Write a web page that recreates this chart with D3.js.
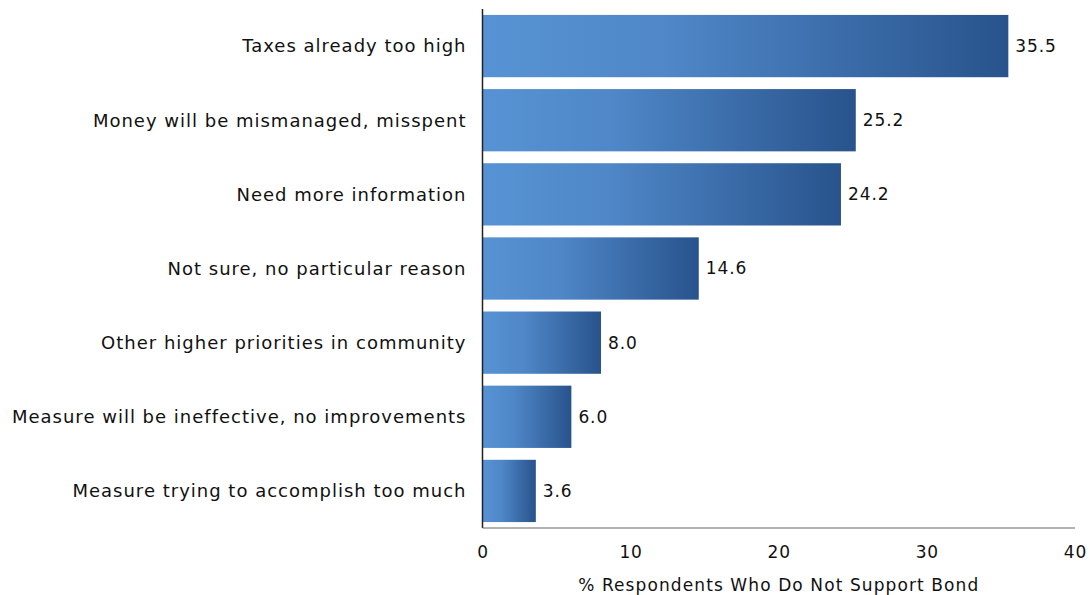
<!DOCTYPE html>
<html>
<head>
<meta charset="utf-8">
<script src="https://cdn.jsdelivr.net/npm/d3@7"></script>
<style>
  body { margin: 0; background: #fff; }
  text { font-family: "DejaVu Sans", sans-serif; fill: #111; }
</style>
</head>
<body>
<div id="chart"></div>
<script>
var reasons = ["Taxes already too high", "Money will be mismanaged, misspent", "Need more information",
  "Not sure, no particular reason", "Other higher priorities in community",
  "Measure will be ineffective, no improvements", "Measure trying to accomplish too much"];
var values = [35.5, 25.2, 24.2, 14.6, 8.0, 6.0, 3.6];
var xTicks = [0, 10, 20, 30, 40];
var xTitle = "% Respondents Who Do Not Support Bond";

var margin = {top: 9, right: 15, bottom: 67, left: 482.5},
    width = 1090 - margin.left - margin.right,
    height = 595 - margin.top - margin.bottom;

var svg = d3.select("#chart")
  .append("svg")
    .attr("width", 1090)
    .attr("height", 595)
  .append("g")
    .attr("transform", "translate(" + margin.left + "," + margin.top + ")");

var grad = svg.append("defs").append("linearGradient")
    .attr("id", "barGrad")
    .attr("x1", "0%").attr("x2", "100%").attr("y1", "0%").attr("y2", "0%");
grad.append("stop").attr("offset", "0%").attr("stop-color", "#5793d4");
grad.append("stop").attr("offset", "35%").attr("stop-color", "#4f87c8");
grad.append("stop").attr("offset", "100%").attr("stop-color", "#28538c");

var x = d3.scaleLinear()
    .domain([0, 40])
    .range([0, width]);

var y = d3.scaleBand()
    .domain(reasons)
    .range([0, height])
    .paddingInner(0.16)
    .paddingOuter(0.08);

var data = reasons.map(function (r, i) { return {reason: r, value: values[i]}; });

svg.append("g")
  .selectAll("rect")
  .data(data)
  .enter()
  .append("rect")
    .attr("x", 0)
    .attr("y", function (d) { return y(d.reason); })
    .attr("width", function (d) { return x(d.value); })
    .attr("height", y.bandwidth())
    .style("fill", "url(#barGrad)");

// value labels
svg.append("g")
  .selectAll("text")
  .data(data)
  .enter()
  .append("text")
    .attr("x", function (d) { return x(d.value) + 7; })
    .attr("y", function (d) { return y(d.reason) + y.bandwidth() / 2; })
    .attr("dy", "0.35em")
    .style("font-size", "17px")
    .style("letter-spacing", "0.9px")
    .text(function (d) { return d.value.toFixed(1); });

// category labels
svg.append("g")
  .selectAll("text")
  .data(data)
  .enter()
  .append("text")
    .attr("x", -16)
    .attr("y", function (d) { return y(d.reason) + y.bandwidth() / 2; })
    .attr("dy", "0.35em")
    .attr("text-anchor", "end")
    .style("font-size", "18px")
    .style("letter-spacing", "1px")
    .text(function (d) { return d.reason; });

// axes lines
svg.append("line")
    .attr("x1", 0).attr("x2", 0).attr("y1", 0).attr("y2", height)
    .attr("stroke", "#222").attr("stroke-width", 1.5);
svg.append("line")
    .attr("x1", 0).attr("x2", width).attr("y1", height).attr("y2", height)
    .attr("stroke", "#666").attr("stroke-width", 1.2);

var xAxis = svg.append("g")
    .attr("transform", "translate(0," + height + ")")
    .call(d3.axisBottom(x).tickValues(xTicks).tickSize(0).tickPadding(18));
xAxis.select(".domain").remove();
xAxis.selectAll("text")
    .style("font-size", "17px")
    .style("letter-spacing", "0.9px")
    .style("font-family", "DejaVu Sans, sans-serif")
    .attr("fill", "#111");

svg.append("text")
    .attr("x", width / 2)
    .attr("y", height + 57)
    .attr("dy", "0.35em")
    .attr("text-anchor", "middle")
    .style("font-size", "17px")
    .style("letter-spacing", "1.1px")
    .text(xTitle);
</script>
</body>
</html>
